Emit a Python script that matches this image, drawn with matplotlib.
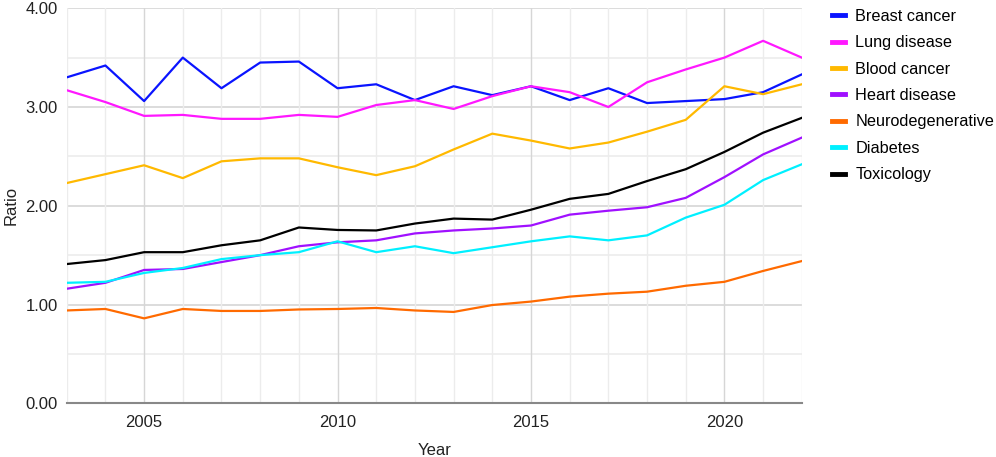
import matplotlib.pyplot as plt
from matplotlib.lines import Line2D

plt.rcParams['font.family'] = ['Liberation Sans', 'DejaVu Sans']

years = list(range(2003, 2023))

breast_cancer = [3.30, 3.42, 3.06, 3.50, 3.19, 3.45, 3.46, 3.19, 3.23, 3.07,
                 3.21, 3.12, 3.21, 3.07, 3.19, 3.04, 3.06, 3.08, 3.15, 3.33]
lung_disease = [3.17, 3.05, 2.91, 2.92, 2.88, 2.88, 2.92, 2.90, 3.02, 3.07,
                2.98, 3.11, 3.21, 3.15, 3.00, 3.25, 3.38, 3.50, 3.67, 3.50]
blood_cancer = [2.23, 2.32, 2.41, 2.28, 2.45, 2.48, 2.48, 2.39, 2.31, 2.40,
                2.57, 2.73, 2.66, 2.58, 2.64, 2.75, 2.87, 3.21, 3.13, 3.23]
heart_disease = [1.16, 1.22, 1.35, 1.36, 1.43, 1.50, 1.59, 1.63, 1.65, 1.72,
                 1.75, 1.77, 1.80, 1.91, 1.95, 1.985, 2.08, 2.29, 2.52, 2.69]
neurodegenerative = [0.94, 0.955, 0.86, 0.955, 0.935, 0.935, 0.95, 0.955, 0.965, 0.94,
                     0.925, 0.995, 1.03, 1.08, 1.11, 1.13, 1.19, 1.23, 1.34, 1.44]
diabetes = [1.22, 1.23, 1.32, 1.37, 1.46, 1.50, 1.53, 1.64, 1.53, 1.59,
            1.52, 1.58, 1.64, 1.69, 1.65, 1.70, 1.88, 2.01, 2.26, 2.42]
toxicology = [1.41, 1.45, 1.53, 1.53, 1.60, 1.65, 1.78, 1.755, 1.75, 1.82,
              1.87, 1.86, 1.96, 2.07, 2.12, 2.25, 2.37, 2.545, 2.74, 2.89]

series = [
    ('Breast cancer', breast_cancer, '#0a14ff'),
    ('Lung disease', lung_disease, '#ff18ff'),
    ('Blood cancer', blood_cancer, '#ffb900'),
    ('Heart disease', heart_disease, '#a010ff'),
    ('Neurodegenerative', neurodegenerative, '#ff6a00'),
    ('Diabetes', diabetes, '#00f0ff'),
    ('Toxicology', toxicology, '#000000'),
]

fig = plt.figure(figsize=(9.96, 4.57), dpi=100)
ax = fig.add_axes([0.067, 0.1175, 0.738, 0.8645])

# grid: light every year / 0.5, darker every 5 years / 1.0
for y in [0.5, 1.5, 2.5, 3.5]:
    ax.axhline(y, color='#ececec', lw=1.2, zorder=0)
for y in [1, 2, 3, 4]:
    ax.axhline(y, color='#d6d6d6', lw=1.2, zorder=0)
for x in years:
    c = '#d6d6d6' if x % 5 == 0 else '#ececec'
    ax.axvline(x, color=c, lw=1.0, zorder=0)

for name, vals, col in series:
    ax.plot(years, vals, color=col, lw=1.6, label=name, zorder=3)

ax.set_xlim(2003, 2022)
ax.set_ylim(0, 4)
ax.set_xticks([2005, 2010, 2015, 2020])
ax.set_yticks([0, 1, 2, 3, 4])
ax.set_yticklabels(['0.00', '1.00', '2.00', '3.00', '4.00'])
ax.tick_params(length=0, labelsize=12, colors='#222222')
ax.tick_params(axis='y', pad=6.5)
ax.tick_params(axis='x', pad=8.5)

for s in ['top', 'right', 'left']:
    ax.spines[s].set_visible(False)
ax.spines['bottom'].set_color('#888888')
ax.spines['bottom'].set_linewidth(1.5)

ax.set_xlabel('Year', fontsize=12, color='#222222', labelpad=9.5)
ax.set_ylabel('Ratio', fontsize=12, color='#222222', labelpad=5)

handles = [Line2D([0], [0], color=col, lw=3.5) for _, _, col in series]
labels = [name for name, _, _ in series]
fig.legend(handles, labels, loc='upper left', bbox_to_anchor=(0.826, 1.0),
           frameon=False, fontsize=11.7, handlelength=0.8, handletextpad=0.65,
           labelspacing=0.7, borderaxespad=0.15)

fig.savefig('out.png', dpi=100)
